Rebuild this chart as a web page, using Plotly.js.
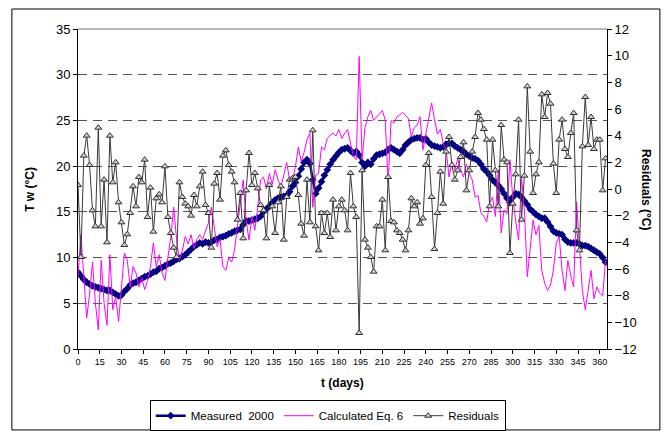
<!DOCTYPE html>
<html>
<head>
<meta charset="utf-8">
<script src="https://cdn.plot.ly/plotly-3.0.1.min.js"></script>
<style>html,body{margin:0;padding:0;background:#fff;}#chart{width:665px;height:431px;}</style>
</head>
<body>
<div id="chart"></div>
<script>
// Day axis: one value every 2 days, starting at day 0
const dayStart = 0;
const dayStep = 2;
const xTickLabels = ["0","15","30","45","60","75","90","105","120","135","150","165","180","195","210","225","240","255","270","285","300","315","330","345","360"];
const xTickDays = [0,15,30,45,60,75,90,105,120,135,150,165,180,195,210,225,240,255,270,285,300,315,330,345,360];

// Measured water temperature 2000 (°C)
const measured = [
8.4,8.0,7.6,7.3,7.1,6.9,6.8,6.7,6.6,6.5,6.4,6.4,6.2,6.0,5.8,5.9,6.3,6.6,7.0,7.2,
7.3,7.5,7.7,7.9,8.0,8.2,8.4,8.5,8.8,8.9,9.1,9.3,9.4,9.6,9.8,9.9,10.1,10.3,10.6,10.9,
11.2,11.4,11.6,11.5,11.7,11.6,11.7,11.9,12.0,12.2,12.3,12.4,12.6,12.7,12.9,13.0,13.1,13.6,14.0,14.0,
14.1,14.2,14.3,14.5,15.0,15.3,15.6,16.0,16.3,16.5,16.6,16.7,16.8,17.2,17.8,18.2,18.9,19.7,20.4,20.7,
20.3,18.5,17.0,17.6,18.3,19.0,19.6,20.2,20.7,21.1,21.5,21.8,21.9,22.0,21.7,21.4,21.6,21.2,20.4,20.0,
20.4,20.2,20.8,21.2,21.3,21.4,21.5,21.8,22.0,21.8,21.6,21.4,21.8,22.3,22.6,22.9,23.0,23.1,23.1,22.9,
23.0,22.6,22.3,22.2,22.1,22.0,22.1,22.4,22.5,22.5,22.2,22.0,21.8,21.6,21.3,21.1,20.9,20.8,20.6,20.2,
19.7,19.4,19.0,18.5,18.2,17.9,17.5,17.0,16.5,16.0,16.6,17.0,16.9,16.6,16.2,15.8,15.3,15.0,14.7,14.5,
14.3,14.3,13.9,13.4,12.9,12.7,12.6,12.5,12.0,11.7,11.6,11.6,11.6,11.5,11.3,11.3,11.2,11.0,10.8,10.6,
10.4,10.0,9.5
];

// Calculated with Eq. 6 (°C)
const calculated = [
8.0,12.5,8.0,3.4,6.0,9.5,5.0,2.1,9.7,5.0,2.6,10.3,4.3,5.7,3.0,6.5,10.5,9.7,6.8,9.0,
8.3,6.8,7.8,6.5,7.5,9.0,11.6,9.0,10.3,8.3,7.5,10.0,12.2,15.5,12.0,9.7,10.8,12.3,11.5,12.5,
11.0,12.0,12.5,12.0,13.0,13.8,15.5,13.5,11.2,12.0,9.0,8.6,10.0,9.5,10.8,13.4,16.3,18.5,14.1,11.9,
14.5,13.0,15.5,18.5,18.8,17.5,19.2,18.0,19.6,18.5,17.7,19.0,20.4,18.5,18.5,19.9,22.1,20.5,21.5,22.9,
23.6,15.5,19.0,19.2,22.1,21.8,23.0,23.4,23.6,23.3,24.0,23.0,23.6,24.0,22.5,21.1,20.7,32.0,20.7,24.2,
25.4,26.1,25.0,25.4,25.8,26.1,25.0,18.2,25.0,24.7,25.4,25.6,25.9,25.5,25.2,23.2,24.2,24.5,25.4,21.8,
23.5,24.8,26.9,25.1,23.5,24.0,22.5,21.8,18.8,20.5,19.6,20.8,19.6,18.8,20.2,19.2,18.5,16.6,16.8,14.9,
14.5,13.9,16.0,16.6,14.5,19.6,12.7,15.2,14.8,20.7,16.5,14.0,11.9,18.8,15.2,7.9,10.8,14.1,12.5,13.5,
8.6,7.2,6.4,7.0,8.6,11.6,12.3,8.6,6.4,9.7,8.0,6.8,16.1,11.0,6.4,4.3,6.5,8.6,5.5,6.8,
6.1,5.8,9.7
];

// Residuals (°C), right axis
const residuals = [
0.3,-5.1,2.5,4.0,1.8,-1.6,-2.8,4.6,-2.8,0.7,-4.0,4.0,0.5,2.0,-1.0,-2.5,-4.2,-3.4,-1.8,0.2,
-1.3,0.9,0.5,2.2,-2.1,0.1,-3.2,-0.7,-0.4,-1.0,1.7,-2.1,-3.3,-4.4,-5.1,0.5,-0.6,-1.1,-1.3,-2.0,
-0.45,-1.3,0.2,1.3,-1.2,-1.8,-4.4,0.4,1.2,-0.8,2.5,2.9,1.8,1.3,0.5,-2.3,-0.3,-3.7,-0.1,2.7,
0.3,1.2,0.05,-1.2,-1.6,-3.7,0.3,-1.3,-3.3,-1.0,0.2,-3.8,-0.6,0.7,0.8,0.9,-0.45,-2.6,-3.5,0.7,
-2.5,4.4,-2.8,-4.6,-1.8,-3.3,-1.8,-3.6,-0.8,-3.1,-1.3,-0.8,-1.6,-3.1,1.2,-1.3,-2.1,-10.8,1.4,-3.8,
-4.4,-5.1,-6.2,-2.8,-2.8,-0.8,-4.6,0.9,-2.4,-2.5,-3.1,-3.3,-3.8,-4.6,-3.1,-0.7,-1.3,-1.0,-2.6,-2.2,
1.8,2.7,-0.6,-4.5,-1.8,1.3,-1.1,2.8,3.9,1.8,0.7,1.4,2.4,3.5,-0.1,1.4,2.8,3.9,5.7,5.2,
4.5,3.7,-1.3,3.7,1.4,-1.3,4.8,2.2,2.0,-4.8,-1.1,1.1,5.2,-2.3,1.0,7.7,2.8,-0.3,1.1,2.0,
7.1,5.4,7.2,6.4,1.9,-0.3,3.7,5.2,3.0,2.4,4.2,5.7,-3.1,-4.6,3.2,6.9,3.3,5.4,3.0,3.7,
3.7,-0.1,2.3
];

const FONT = "Liberation Sans, Arial, sans-serif";

const traces = [
  {
    name: "Measured  2000",
    y: measured, x0: dayStart, dx: dayStep,
    type: "scatter", mode: "lines+markers",
    line: {color: "#000080", width: 2.5},
    marker: {symbol: "diamond", size: 6, color: "#000080"},
    xaxis: "x", yaxis: "y"
  },
  {
    name: "Calculated Eq. 6",
    y: calculated, x0: dayStart, dx: dayStep,
    type: "scatter", mode: "lines",
    line: {color: "#FF00FF", width: 1},
    xaxis: "x", yaxis: "y"
  },
  {
    name: "Residuals",
    y: residuals, x0: dayStart, dx: dayStep,
    type: "scatter", mode: "lines+markers",
    line: {color: "#3a3a3a", width: 1},
    marker: {symbol: "triangle-up", size: 6, color: "#d0d0d0", line: {color: "#303030", width: 1}},
    xaxis: "x", yaxis: "y2"
  }
];

const layout = {
  width: 665, height: 431,
  margin: {l: 78, r: 58, t: 29, b: 82, autoexpand: false},
  paper_bgcolor: "#ffffff", plot_bgcolor: "#ffffff",
  font: {family: FONT, color: "#000", size: 12},
  showlegend: true,
  legend: {
    orientation: "h", x: 0.472, xanchor: "center", y: -0.16, yanchor: "top",
    bordercolor: "#000", borderwidth: 1, font: {family: FONT, size: 11.5, color: "#000"},
    itemwidth: 30, tracegroupgap: 0
  },
  xaxis: {
    range: [0, 365], tickmode: "array", tickvals: xTickDays, ticktext: xTickLabels,
    ticks: "outside", ticklen: 4, tickcolor: "#000", showline: true, linecolor: "#000", linewidth: 1,
    showgrid: false, zeroline: false, tickfont: {family: FONT, size: 9}, automargin: false
  },
  yaxis: {
    range: [0, 35], dtick: 5, ticks: "outside", ticklen: 4, tickcolor: "#000",
    showline: true, linecolor: "#000", linewidth: 1,
    showgrid: true, gridcolor: "#555555", griddash: "9px,6px", gridwidth: 1, zeroline: false,
    tickfont: {family: FONT, size: 13}, automargin: false
  },
  yaxis2: {
    range: [-12, 12], dtick: 2, overlaying: "y", side: "right",
    ticks: "outside", ticklen: 4, tickcolor: "#000", showline: true, linecolor: "#000", linewidth: 1,
    showgrid: false, zeroline: false, tickfont: {family: FONT, size: 13}, automargin: false
  },
  annotations: [
    {text: "<b>t (days)</b>", xref: "paper", yref: "paper", x: 0.5, y: -0.106, yanchor: "middle",
     showarrow: false, font: {family: FONT, size: 12, color: "#000"}},
    {text: "<b>T w (°C)</b>", xref: "paper", yref: "paper", x: -0.091, y: 0.5, xanchor: "center",
     textangle: -90, showarrow: false, font: {family: FONT, size: 12, color: "#000"}},
    {text: "<b>Residuals (°C)</b>", xref: "paper", yref: "paper", x: 1.0, xshift: 48, y: 0.5,
     textangle: 90, showarrow: false, font: {family: FONT, size: 12, color: "#000"}}
  ],
  shapes: [
    {type: "line", xref: "paper", yref: "paper", x0: 0, x1: 1, y0: 1, y1: 1, line: {color: "#a0a0a0", width: 1.5}},
    {type: "rect", xref: "paper", yref: "paper", x0: -0.125, x1: 1.1, y0: -0.253, y1: 1.0625, line: {color: "#000", width: 1}}
  ]
};

Plotly.newPlot("chart", traces, layout, {displayModeBar: false, staticPlot: true});
</script>
</body>
</html>
